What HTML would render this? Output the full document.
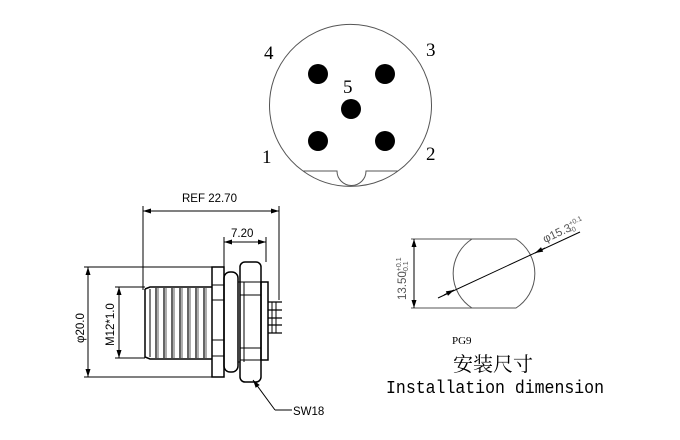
<!DOCTYPE html>
<html><head><style>
html,body{margin:0;padding:0;background:#fff}
svg{display:block}
.s{font-family:"Liberation Serif","Noto Serif CJK SC",serif}
.a{font-family:"Liberation Sans",sans-serif}
.m{font-family:"Liberation Mono",monospace}
</style></head><body>
<svg width="680" height="440" viewBox="0 0 680 440" xmlns="http://www.w3.org/2000/svg">
<defs>
<marker id="ar" markerWidth="8" markerHeight="6" refX="8" refY="3" orient="auto-start-reverse" markerUnits="userSpaceOnUse"><path d="M0,0.5 L8,3 L0,5.5z" fill="#000"/></marker>
</defs>
<!-- top face view -->
<g fill="none" stroke="#555" stroke-width="1">
<path d="M303,171 A81,81 0 1 1 398,171"/>
<path d="M303,171 L337,171 A14,14 0 0 0 366,171 L398,171"/>
<path d="M303,171 A81,81 0 0 0 398,171"/>
</g>
<g fill="#000">
<circle cx="318" cy="74" r="10"/><circle cx="385" cy="74" r="10"/>
<circle cx="351" cy="109" r="10"/>
<circle cx="318" cy="141" r="10"/><circle cx="385" cy="141" r="10"/>
</g>
<g class="s" font-size="19" fill="#000">
<text x="264" y="59">4</text><text x="426" y="56">3</text>
<text x="343" y="93">5</text><text x="262" y="163">1</text><text x="426" y="160">2</text>
</g>
<!-- side view -->
<g fill="none" stroke="#000" stroke-width="1">
<line x1="143" y1="211" x2="279" y2="211" marker-start="url(#ar)" marker-end="url(#ar)"/>
<line x1="143" y1="206" x2="143" y2="290"/>
<line x1="279" y1="206" x2="279" y2="300"/>
<line x1="224" y1="242" x2="266" y2="242" marker-start="url(#ar)" marker-end="url(#ar)"/>
<line x1="224" y1="237" x2="224" y2="267"/>
<line x1="266" y1="237" x2="266" y2="262"/>
<line x1="88" y1="267" x2="88" y2="377" marker-start="url(#ar)" marker-end="url(#ar)"/>
<line x1="84" y1="267" x2="212" y2="267"/>
<line x1="84" y1="377" x2="212" y2="377"/>
<line x1="119" y1="287" x2="119" y2="358" marker-start="url(#ar)" marker-end="url(#ar)"/>
<line x1="115" y1="287" x2="145" y2="287"/>
<line x1="115" y1="358" x2="145" y2="358"/>
<!-- thread body -->
<path d="M145,289 L150,287 L212,287 M145,289 L145,357 L150,359 L212,359" stroke-width="1.5"/>
<line x1="150" y1="289" x2="150" y2="357"/>
<g stroke-width="1.2">
<path d="M156,288 L156,358 M164,288 L164,358 M172,288 L172,358 M180,288 L180,358 M188,288 L188,358 M196,288 L196,358 M204,288 L204,358"/>
<path d="M158,288 L158,358 M166,288 L166,358 M174,288 L174,358 M182,288 L182,358 M190,288 L190,358 M198,288 L198,358 M206,288 L206,358" stroke="#777"/>
</g>
<!-- flange -->
<rect x="212" y="267" width="12" height="110" stroke-width="1.5"/>
<path d="M212,285 H224 M212,300 H224 M212,340 H224 M212,356 H224"/>
<!-- o-ring -->
<rect x="224" y="272" width="14" height="100" rx="6" stroke-width="1.5"/>
<line x1="238" y1="282" x2="240" y2="282"/><line x1="238" y1="362" x2="240" y2="362"/>
<!-- nut -->
<rect x="240" y="262" width="21" height="120" rx="5" stroke-width="1.5"/>
<path d="M244,282 L244,362 M240,282 H261 M240,295 H261 M240,348 H261 M240,360 H261"/>
<!-- back body -->
<rect x="261" y="282" width="7" height="78" stroke-width="1.5"/>
<!-- pins -->
<path d="M268,302 H282 M268,310 H282 M268,318 H282 M268,325 H282 M268,333 H282" stroke-width="1.3"/>
<path d="M272,302 V333 M276,302 V333" stroke-width="1"/>
<!-- leader -->
<line x1="253" y1="380" x2="275" y2="410" marker-start="url(#ar)"/>
<line x1="275" y1="410" x2="292" y2="410"/>
</g>
<g class="a" font-size="11.5" fill="#000">
<text x="182" y="202">REF 22.70</text>
<text x="231" y="237">7.20</text>
<text x="293" y="415">SW18</text>
<text transform="translate(84,343) rotate(-90)">φ20.0</text>
<text transform="translate(114,346) rotate(-90)">M12*1.0</text>
</g>
<!-- installation view -->
<g fill="none" stroke="#555" stroke-width="1">
<path d="M411,239 H516 A41,41 0 0 1 516,308 H411"/>
<path d="M472,239 A41,41 0 0 0 472,308"/>
<line x1="414" y1="239" x2="414" y2="308" stroke="#000" marker-start="url(#ar)" marker-end="url(#ar)"/>
<line x1="438" y1="298" x2="580" y2="232" stroke="#000"/>
<line x1="444" y1="295" x2="454" y2="290" stroke="#000" marker-end="url(#ar)"/>
<line x1="545" y1="248" x2="535" y2="253" stroke="#000" marker-end="url(#ar)"/>
</g>
<g class="a" font-size="11.5" fill="#555">
<text transform="translate(406,300) rotate(-90)">13.50<tspan font-size="7" dy="-5">+0.1</tspan><tspan font-size="7" dx="-16" dy="7">-0.1</tspan></text>
<text transform="translate(545,243) rotate(-25)">φ15.3<tspan font-size="7" dy="-5">+0.1</tspan><tspan font-size="7" dx="-16" dy="7">-0</tspan></text>
</g>
<text class="s" x="452" y="344" font-size="11" fill="#000">PG9</text>
<text x="453" y="371" font-size="20" fill="#000" style="font-family:'Noto Serif CJK SC','Noto Sans CJK SC',serif">安装尺寸</text>
<text class="m" x="386" y="393" font-size="18.5" fill="#000" textLength="218" lengthAdjust="spacingAndGlyphs">Installation dimension</text>
</svg>
</body></html>
